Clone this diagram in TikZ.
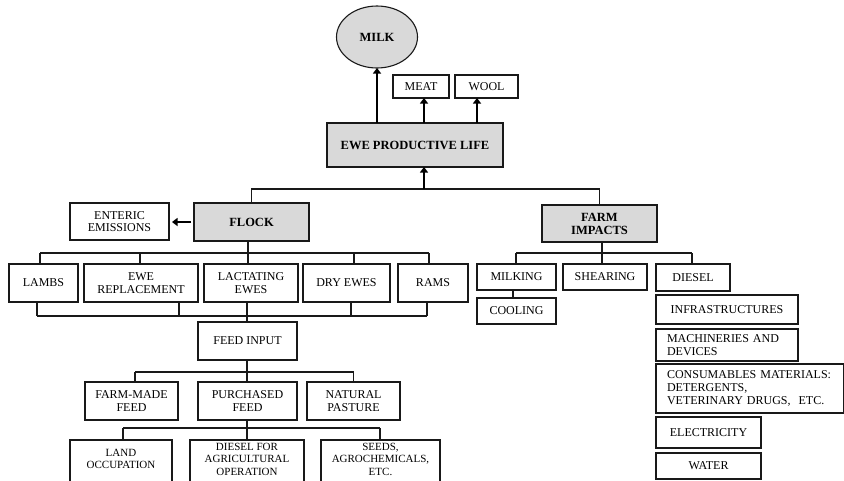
\documentclass[tikz,border=0pt]{standalone}
\usepackage{fontspec}
\setmainfont{Liberation Serif}
\usetikzlibrary{arrows.meta,calc,shapes.geometric}
\begin{document}
\begin{tikzpicture}[x=1pt,y=-1pt,
 box/.style={draw=black!90,line width=1.1pt,rectangle,inner sep=1pt,outer sep=0pt,align=center,font=\fontsize{12}{12.7}\selectfont},
 gbox/.style={box,fill=black!15,font=\bfseries\fontsize{12.5}{13}\selectfont},
 conn/.style={draw=black!90,line width=1.1pt},
 arr/.style={draw=black,line width=2.2pt,-{Triangle[length=5.5pt,width=8pt]}},
 txt/.style={align=center,inner sep=0pt,font=\fontsize{11}{12.3}\selectfont}]
\useasboundingbox (0,0) rectangle (844,480);
\clip (0,0) rectangle (844,480);
% top
\node[gbox,ellipse,minimum width=81pt,minimum height=62pt] (milk) at (377,37) {MILK};
\node[box,minimum width=56pt,minimum height=23pt] (meat) at (421,86.5) {MEAT};
\node[box,minimum width=63pt,minimum height=23pt] (wool) at (486.5,86.5) {WOOL};
\node[gbox,minimum width=176pt,minimum height=44pt] (ewe) at (415,145) {EWE PRODUCTIVE LIFE};
\draw[arr] (ewe.north -| milk.south) -- (milk.south);
\draw[arr] ($(ewe.north -| meat.south)+(3,0)$) -- ($(meat.south)+(3,0)$);
\draw[arr] ($(ewe.north -| wool.south)+(-9.5,0)$) -- ($(wool.south)+(-9.5,0)$);
% second level
\node[gbox,minimum width=115pt,minimum height=38pt] (flock) at (251.5,222) {FLOCK};
\node[box,minimum width=99pt,minimum height=37pt] (enteric) at (119.5,221.5) {ENTERIC\\EMISSIONS};
\node[gbox,minimum width=115pt,minimum height=37pt] (farm) at (599.5,223.5) {FARM\\IMPACTS};
\coordinate (tb) at (424,189);
\draw[conn] (flock.north) |- (tb) -| (farm.north);
\draw[arr] (tb) -- (tb |- ewe.south);
\draw[arr,line width=1.8pt,shorten <=3pt,shorten >=3pt] (flock.west) -- (flock.west -| enteric.east);
% flock row
\node[box,minimum width=69pt,minimum height=38pt] (lambs) at (43.5,283) {LAMBS};
\node[box,minimum width=114pt,minimum height=38pt] (ewerep) at (141,283) {EWE\\REPLACEMENT};
\node[box,minimum width=94pt,minimum height=38pt] (lact) at (251,283) {LACTATING\\EWES};
\node[box,minimum width=87pt,minimum height=38pt] (dry) at (346.5,283) {DRY EWES};
\node[box,minimum width=70pt,minimum height=38pt] (rams) at (433,283) {RAMS};
\coordinate (fb) at (248,253);
\draw[conn] (flock.south -| fb) -- (fb);
\draw[conn] ($(lambs.north |- fb)+(-3.5,0)$) -- ($(rams.north |- fb)+(-4,0)$);
\foreach \n/\o in {lambs/-3.5,ewerep/-1,lact/-3,dry/7.5,rams/-4}
  \draw[conn] ($(\n.north |- fb)+(\o,0)$) -- ($(\n.north)+(\o,0)$);
\coordinate (lb) at (247,316);
\foreach \n/\o in {lambs/-6.5,ewerep/38,lact/-4,dry/4.5,rams/-6}
  \draw[conn] ($(\n.south)+(\o,0)$) -- ($(\n.south |- lb)+(\o,0)$);
\draw[conn] ($(lambs.south |- lb)+(-6.5,0)$) -- ($(rams.south |- lb)+(-6,0)$);
% feed
\node[box,minimum width=99pt,minimum height=38pt] (feed) at (247.5,341) {FEED INPUT};
\draw[conn] (lb) -- (lb |- feed.north);
\node[box,minimum width=93pt,minimum height=38pt] (farmmade) at (131.5,401) {FARM-MADE\\FEED};
\node[box,minimum width=99pt,minimum height=38pt] (purch) at (247.5,401) {PURCHASED\\FEED};
\node[box,minimum width=93pt,minimum height=38pt] (natural) at (353.5,401) {NATURAL\\PASTURE};
\coordinate (fdb) at (247,372);
\draw[conn] (feed.south -| fdb) -- (fdb);
\draw[conn] ($(farmmade.north |- fdb)+(3.5,0)$) -- (natural.north |- fdb);
\foreach \n/\o in {farmmade/3.5,purch/-0.5,natural/0}
  \draw[conn] ($(\n.north |- fdb)+(\o,0)$) -- ($(\n.north)+(\o,0)$);
% purchased inputs
\node[box,minimum width=102pt,minimum height=50pt] (land) at (121,465) {};
\node[box,minimum width=114pt,minimum height=50pt] (dag) at (247,465) {};
\node[box,minimum width=119pt,minimum height=50pt] (seeds) at (380.5,465) {};
\node[txt,anchor=north] (landt) at ($(land.north)+(0,9)$) {LAND\\OCCUPATION};
\node[txt,anchor=north] (dagt) at ($(dag.north)+(0,3)$) {DIESEL FOR\\AGRICULTURAL\\OPERATION};
\node[txt,anchor=north] (seedst) at ($(seeds.north)+(0,3)$) {SEEDS,\\AGROCHEMICALS,\\ETC.};
\coordinate (pb) at (247,428);
\draw[conn] (purch.south -| pb) -- (pb);
\draw[conn] ($(land.north |- pb)+(2,0)$) -- ($(seeds.north |- pb)+(-0.5,0)$);
\foreach \n/\o in {land/2,dag/0,seeds/-0.5}
  \draw[conn] ($(\n.north |- pb)+(\o,0)$) -- ($(\n.north)+(\o,0)$);
% farm impacts
\node[box,minimum width=79pt,minimum height=26pt] (milking) at (516.5,277) {MILKING};
\node[box,minimum width=84pt,minimum height=26pt] (shear) at (605,277) {SHEARING};
\node[box,minimum width=74pt,minimum height=27pt] (diesel) at (693,277.5) {DIESEL};
\node[box,minimum width=79pt,minimum height=26pt] (cooling) at (516.5,311) {COOLING};
\coordinate (frb) at (602,253);
\draw[conn] (farm.south -| frb) -- (frb);
\draw[conn] ($(milking.north |- frb)+(-0.5,0)$) -- ($(diesel.north |- frb)+(-1,0)$);
\foreach \n/\o in {milking/-0.5,shear/-3,diesel/-1}
  \draw[conn] ($(\n.north |- frb)+(\o,0)$) -- ($(\n.north)+(\o,0)$);
\draw[conn] ($(milking.south)+(-3.5,0)$) -- ($(cooling.north)+(-3.5,0)$);
\node[box,minimum width=142pt,minimum height=29pt] (infra) at (727,309.5) {INFRASTRUCTURES};
\node[box,minimum width=142pt,minimum height=32pt,text width=120pt,align=left] (mach) at (727,345) {MACHINERIES AND\\DEVICES};
\node[box,minimum width=188pt,minimum height=49pt,text width=166pt,align=left] (cons) at (750,388.5) {CONSUMABLES MATERIALS:\\DETERGENTS,\\VETERINARY DRUGS,\ \ ETC.};
\node[box,minimum width=105pt,minimum height=31pt] (elec) at (708.5,432.5) {ELECTRICITY};
\node[box,minimum width=105pt,minimum height=26pt] (water) at (708.5,466) {WATER};
\end{tikzpicture}
\end{document}
